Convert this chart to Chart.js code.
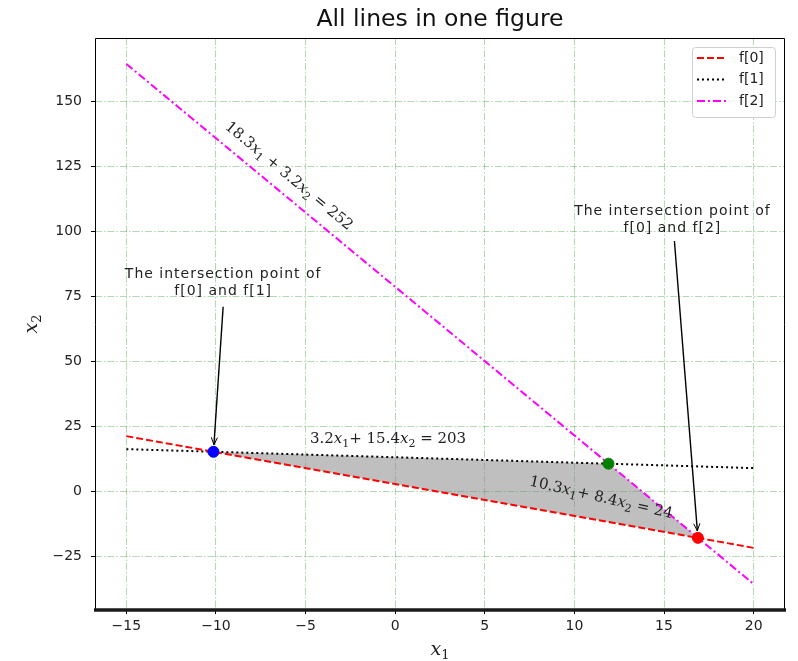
<!DOCTYPE html>
<html>
<head>
<meta charset="utf-8">
<script src="https://cdn.jsdelivr.net/npm/chart.js@4"></script>
<style>
  html, body { margin: 0; padding: 0; background: #fff; }
  #chart { display: block; }
</style>
</head>
<body>
<canvas id="chart" width="798" height="661"></canvas>
<script>
// line end points (x from -15 to 20)
const lineX = [-15, 20];
const f0Y = [21.3, -21.7];
const f1Y = [16.3, 9.0];
const f2Y = [164.5, -35.6];

// intersection points: f0/f1, f1/f2, f0/f2
const crossX = [-10.14, 11.9, 16.89];
const crossY = [15.29, 10.71, -17.84];
const crossColors = ["#0000ff", "#008000", "#ff0000"];

const xTicks = [-15, -10, -5, 0, 5, 10, 15, 20];
const yTicks = [-25, 0, 25, 50, 75, 100, 125, 150];

const legendLabels = ["f[0]", "f[1]", "f[2]"];
const lineColors = ["#ff0000", "#000000", "#ff00ff"];
const lineDashes = [[7, 3], [2, 3], [8, 3, 2, 3]];

const FONT = "'DejaVu Sans', sans-serif";
const TXT = "#222";

const toPts = (xs, ys) => xs.map((v, i) => ({x: v, y: ys[i]}));

function drawMath(ctx, parts, cx, cy, angle, size) {
    // parts: [text, kind] kind 0 = normal, 1 = italic, 2 = subscript
    const fontFor = (k) => k === 1 ? `italic ${size}px 'DejaVu Serif', serif`
        : k === 2 ? `${Math.round(size * 0.7)}px 'DejaVu Serif', serif`
        : `${size}px 'DejaVu Serif', serif`;
    let total = 0;
    const widths = parts.map(([t, k]) => {
        ctx.font = fontFor(k);
        const w = ctx.measureText(t).width;
        total += w;
        return w;
    });
    ctx.save();
    ctx.translate(cx, cy);
    ctx.rotate(angle);
    ctx.fillStyle = TXT;
    ctx.textBaseline = "alphabetic";
    ctx.textAlign = "left";
    let xx = -total / 2;
    parts.forEach(([t, k], i) => {
        ctx.font = fontFor(k);
        ctx.fillText(t, xx, size * 0.35 + (k === 2 ? size * 0.25 : 0));
        xx += widths[i];
    });
    ctx.restore();
}

function drawArrow(ctx, x0, y0, x1, y1) {
    const ang = Math.atan2(y1 - y0, x1 - x0);
    const ex = x1 - 7 * Math.cos(ang), ey = y1 - 7 * Math.sin(ang);
    ctx.save();
    ctx.strokeStyle = "#000";
    ctx.lineWidth = 1.4;
    ctx.beginPath();
    ctx.moveTo(x0, y0);
    ctx.lineTo(ex, ey);
    ctx.stroke();
    const h = 8;
    ctx.lineWidth = 1;
    ctx.beginPath();
    ctx.moveTo(ex - h * Math.cos(ang - 0.4), ey - h * Math.sin(ang - 0.4));
    ctx.lineTo(ex, ey);
    ctx.lineTo(ex - h * Math.cos(ang + 0.4), ey - h * Math.sin(ang + 0.4));
    ctx.stroke();
    ctx.restore();
}

const extras = {
    id: "extras",
    afterDatasetsDraw(chart) {
        const {ctx, chartArea: a, scales: {x, y}} = chart;
        const px = (v) => x.getPixelForValue(v);
        const py = (v) => y.getPixelForValue(v);

        // spines
        ctx.save();
        ctx.strokeStyle = "#000";
        ctx.lineWidth = 1;
        ctx.beginPath();
        ctx.moveTo(a.left + 0.5, a.bottom);
        ctx.lineTo(a.left + 0.5, a.top + 0.5);
        ctx.lineTo(a.right - 0.5, a.top + 0.5);
        ctx.lineTo(a.right - 0.5, a.bottom);
        ctx.stroke();
        ctx.strokeStyle = "#1a1a1a";
        ctx.lineWidth = 3.5;
        ctx.beginPath();
        ctx.moveTo(a.left - 1, a.bottom);
        ctx.lineTo(a.right + 1, a.bottom);
        ctx.stroke();
        ctx.restore();

        // title
        ctx.save();
        ctx.fillStyle = "#111";
        ctx.font = `23.5px ${FONT}`;
        ctx.textAlign = "center";
        ctx.textBaseline = "middle";
        ctx.fillText("All lines in one figure", (a.left + a.right) / 2, 20);

        // annotations
        ctx.font = `14px ${FONT}`;
        ctx.letterSpacing = "1px";
        ctx.fillStyle = TXT;
        ctx.fillText("The intersection point of", px(-9.6), py(83.4));
        ctx.fillText("f[0] and f[1]", px(-9.6), py(76.9));
        ctx.fillText("The intersection point of", px(15.47), py(107.9));
        ctx.fillText("f[0] and f[2]", px(15.47), py(101.4));
        ctx.restore();
        drawArrow(ctx, px(-9.6), py(71.1), px(crossX[0]), py(crossY[0]));
        drawArrow(ctx, px(15.58), py(96.4), px(crossX[2]), py(crossY[2]));

        // equation labels
        const angOf = (ys) => Math.atan2(py(ys[1]) - py(ys[0]), px(lineX[1]) - px(lineX[0]));
        drawMath(ctx, [["18.3", 0], ["x", 1], ["1", 2], [" + 3.2", 0], ["x", 1], ["2", 2], [" = 252", 0]],
            px(-5.9), py(121.7), angOf(f2Y), 15);
        drawMath(ctx, [["3.2", 0], ["x", 1], ["1", 2], ["+ 15.4", 0], ["x", 1], ["2", 2], [" = 203", 0]],
            px(-0.4), py(20.7), 0, 15);
        drawMath(ctx, [["10.3", 0], ["x", 1], ["1", 2], ["+ 8.4", 0], ["x", 1], ["2", 2], [" = 24", 0]],
            px(11.5), py(-2.0), angOf(f0Y) + 0.05, 15);

        // axis titles
        drawMath(ctx, [["x", 1], ["1", 2]], (a.left + a.right) / 2, 648, 0, 19);
        drawMath(ctx, [["x", 1], ["2", 2]], 30, (a.top + a.bottom) / 2, -Math.PI / 2, 19);

        // legend
        const bx = a.right - 93, by = a.top + 9, bw = 83, bh = 70;
        ctx.save();
        ctx.fillStyle = "rgba(255,255,255,0.85)";
        ctx.strokeStyle = "#d0d0d0";
        ctx.lineWidth = 1;
        ctx.beginPath();
        ctx.roundRect(bx + 0.5, by + 0.5, bw, bh, 3);
        ctx.fill();
        ctx.stroke();
        legendLabels.forEach((lab, i) => {
            const ly = by + 11 + i * 21.5;
            ctx.strokeStyle = lineColors[i];
            ctx.lineWidth = 2;
            ctx.setLineDash(lineDashes[i]);
            ctx.beginPath();
            ctx.moveTo(bx + 5, ly);
            ctx.lineTo(bx + 35, ly);
            ctx.stroke();
            ctx.setLineDash([]);
            ctx.fillStyle = TXT;
            ctx.font = `14px ${FONT}`;
            ctx.textAlign = "left";
            ctx.textBaseline = "middle";
            ctx.fillText(lab, bx + 47, ly);
        });
        ctx.restore();
    }
};

const lineSets = [f0Y, f1Y, f2Y].map((ys, i) => ({
    label: legendLabels[i],
    data: toPts(lineX, ys),
    showLine: true,
    borderColor: lineColors[i],
    borderWidth: 2,
    borderDash: lineDashes[i],
    pointRadius: 0,
    fill: false,
    order: 1
}));

const gridOpts = {color: "rgba(0,128,0,0.3)", lineWidth: 1, tickColor: "#000", tickLength: 4};

new Chart(document.getElementById("chart"), {
    type: "scatter",
    data: {
        datasets: [
            {
                label: "points",
                data: toPts(crossX, crossY),
                pointRadius: 5.5,
                pointBackgroundColor: crossColors,
                pointBorderColor: crossColors,
                order: 0
            },
            ...lineSets,
            {
                label: "region",
                data: toPts(crossX, crossY),
                showLine: true,
                borderWidth: 0,
                borderColor: "rgba(0,0,0,0)",
                backgroundColor: "rgba(128,128,128,0.5)",
                pointRadius: 0,
                fill: "shape",
                order: 2
            }
        ]
    },
    options: {
        responsive: false,
        animation: false,
        devicePixelRatio: 1,
        layout: {padding: {left: 0, right: 13, top: 38, bottom: 0}},
        plugins: {legend: {display: false}, tooltip: {enabled: false}},
        scales: {
            x: {
                type: "linear",
                min: -16.75,
                max: 21.75,
                afterBuildTicks: (s) => { s.ticks = xTicks.map((v) => ({value: v})); },
                afterFit: (s) => { s.height = 51; },
                ticks: {
                    color: TXT,
                    font: {family: FONT, size: 14},
                    padding: 4,
                    maxRotation: 0,
                    autoSkip: false,
                    callback: (v) => String(v).replace("-", "\u2212")
                },
                grid: gridOpts,
                border: {display: false, dash: [7, 2, 1.5, 2]}
            },
            y: {
                type: "linear",
                min: -45.6,
                max: 174.5,
                afterBuildTicks: (s) => { s.ticks = yTicks.map((v) => ({value: v})); },
                afterFit: (s) => { s.width = 95; },
                ticks: {
                    color: TXT,
                    font: {family: FONT, size: 14},
                    padding: 9,
                    autoSkip: false,
                    callback: (v) => String(v).replace("-", "\u2212")
                },
                grid: gridOpts,
                border: {display: false, dash: [7, 2, 1.5, 2]}
            }
        }
    },
    plugins: [extras]
});
</script>
</body>
</html>
